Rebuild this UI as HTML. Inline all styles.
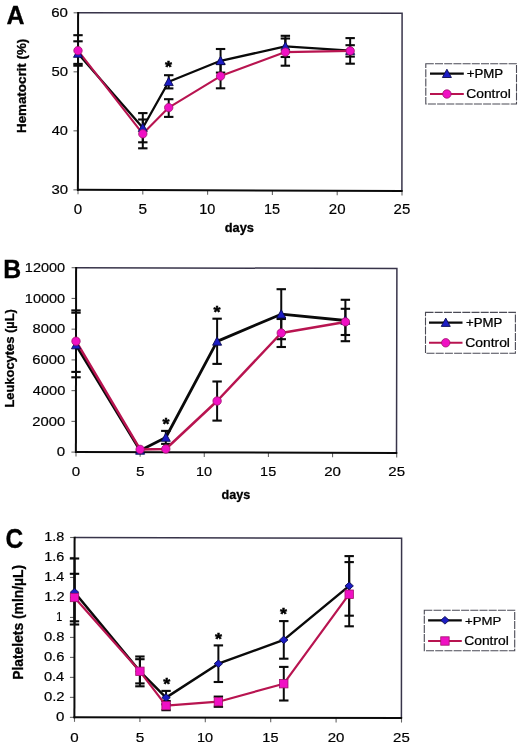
<!DOCTYPE html>
<html><head><meta charset="utf-8"><title>Figure</title>
<style>html,body{margin:0;padding:0;background:#fff;} svg{display:block;filter:blur(0.4px);} text{font-family:"Liberation Sans",sans-serif;}</style>
</head><body>
<svg width="520" height="747" viewBox="0 0 520 747">
<rect x="0" y="0" width="520" height="747" fill="#fff"/>
<path d="M78.10,12.80 L402.10,13.30 L401.90,191.00" fill="none" stroke="#38344a" stroke-width="1.5"/>
<line x1="73.60" y1="12.80" x2="78.10" y2="12.80" stroke="#666" stroke-width="1.1"/>
<line x1="73.53" y1="71.82" x2="78.03" y2="71.82" stroke="#666" stroke-width="1.1"/>
<line x1="73.47" y1="130.83" x2="77.97" y2="130.83" stroke="#666" stroke-width="1.1"/>
<line x1="73.40" y1="189.85" x2="77.90" y2="189.85" stroke="#666" stroke-width="1.1"/>
<line x1="78.00" y1="189.85" x2="78.00" y2="194.35" stroke="#666" stroke-width="1.1"/>
<line x1="142.80" y1="190.08" x2="142.80" y2="194.58" stroke="#666" stroke-width="1.1"/>
<line x1="207.60" y1="190.31" x2="207.60" y2="194.81" stroke="#666" stroke-width="1.1"/>
<line x1="272.40" y1="190.54" x2="272.40" y2="195.04" stroke="#666" stroke-width="1.1"/>
<line x1="337.20" y1="190.77" x2="337.20" y2="195.27" stroke="#666" stroke-width="1.1"/>
<line x1="402.00" y1="191.00" x2="402.00" y2="195.50" stroke="#666" stroke-width="1.1"/>
<line x1="78.10" y1="12.05" x2="77.90" y2="190.75" stroke="#0a0a0a" stroke-width="2"/>
<line x1="77.00" y1="189.85" x2="402.65" y2="191.00" stroke="#0a0a0a" stroke-width="2"/>
<line x1="78.00" y1="41.30" x2="78.00" y2="65.70" stroke="#0a0a0a" stroke-width="2"/>
<line x1="73.30" y1="41.30" x2="82.70" y2="41.30" stroke="#0a0a0a" stroke-width="2.1"/>
<line x1="73.30" y1="65.70" x2="82.70" y2="65.70" stroke="#0a0a0a" stroke-width="2.1"/>
<line x1="142.80" y1="113.10" x2="142.80" y2="142.30" stroke="#0a0a0a" stroke-width="2"/>
<line x1="138.10" y1="113.10" x2="147.50" y2="113.10" stroke="#0a0a0a" stroke-width="2.1"/>
<line x1="138.10" y1="142.30" x2="147.50" y2="142.30" stroke="#0a0a0a" stroke-width="2.1"/>
<line x1="168.72" y1="75.20" x2="168.72" y2="88.40" stroke="#0a0a0a" stroke-width="2"/>
<line x1="164.02" y1="75.20" x2="173.42" y2="75.20" stroke="#0a0a0a" stroke-width="2.1"/>
<line x1="164.02" y1="88.40" x2="173.42" y2="88.40" stroke="#0a0a0a" stroke-width="2.1"/>
<line x1="220.56" y1="49.00" x2="220.56" y2="72.60" stroke="#0a0a0a" stroke-width="2"/>
<line x1="215.86" y1="49.00" x2="225.26" y2="49.00" stroke="#0a0a0a" stroke-width="2.1"/>
<line x1="215.86" y1="72.60" x2="225.26" y2="72.60" stroke="#0a0a0a" stroke-width="2.1"/>
<line x1="285.36" y1="35.80" x2="285.36" y2="57.00" stroke="#0a0a0a" stroke-width="2"/>
<line x1="280.66" y1="35.80" x2="290.06" y2="35.80" stroke="#0a0a0a" stroke-width="2.1"/>
<line x1="280.66" y1="57.00" x2="290.06" y2="57.00" stroke="#0a0a0a" stroke-width="2.1"/>
<line x1="350.16" y1="38.10" x2="350.16" y2="63.70" stroke="#0a0a0a" stroke-width="2"/>
<line x1="345.46" y1="38.10" x2="354.86" y2="38.10" stroke="#0a0a0a" stroke-width="2.1"/>
<line x1="345.46" y1="63.70" x2="354.86" y2="63.70" stroke="#0a0a0a" stroke-width="2.1"/>
<line x1="78.00" y1="35.20" x2="78.00" y2="63.90" stroke="#0a0a0a" stroke-width="2"/>
<line x1="73.30" y1="35.20" x2="82.70" y2="35.20" stroke="#0a0a0a" stroke-width="2.1"/>
<line x1="73.30" y1="63.90" x2="82.70" y2="63.90" stroke="#0a0a0a" stroke-width="2.1"/>
<line x1="142.80" y1="119.50" x2="142.80" y2="148.30" stroke="#0a0a0a" stroke-width="2"/>
<line x1="138.10" y1="119.50" x2="147.50" y2="119.50" stroke="#0a0a0a" stroke-width="2.1"/>
<line x1="138.10" y1="148.30" x2="147.50" y2="148.30" stroke="#0a0a0a" stroke-width="2.1"/>
<line x1="168.72" y1="99.20" x2="168.72" y2="116.90" stroke="#0a0a0a" stroke-width="2"/>
<line x1="164.02" y1="99.20" x2="173.42" y2="99.20" stroke="#0a0a0a" stroke-width="2.1"/>
<line x1="164.02" y1="116.90" x2="173.42" y2="116.90" stroke="#0a0a0a" stroke-width="2.1"/>
<line x1="220.56" y1="64.00" x2="220.56" y2="88.30" stroke="#0a0a0a" stroke-width="2"/>
<line x1="215.86" y1="64.00" x2="225.26" y2="64.00" stroke="#0a0a0a" stroke-width="2.1"/>
<line x1="215.86" y1="88.30" x2="225.26" y2="88.30" stroke="#0a0a0a" stroke-width="2.1"/>
<line x1="285.36" y1="38.50" x2="285.36" y2="65.70" stroke="#0a0a0a" stroke-width="2"/>
<line x1="280.66" y1="38.50" x2="290.06" y2="38.50" stroke="#0a0a0a" stroke-width="2.1"/>
<line x1="280.66" y1="65.70" x2="290.06" y2="65.70" stroke="#0a0a0a" stroke-width="2.1"/>
<line x1="350.16" y1="45.20" x2="350.16" y2="56.60" stroke="#0a0a0a" stroke-width="2"/>
<line x1="345.46" y1="45.20" x2="354.86" y2="45.20" stroke="#0a0a0a" stroke-width="2.1"/>
<line x1="345.46" y1="56.60" x2="354.86" y2="56.60" stroke="#0a0a0a" stroke-width="2.1"/>
<polyline points="78.00,53.50 142.80,127.70 168.72,81.80 220.56,60.80 285.36,46.40 350.16,50.60" fill="none" stroke="#0a0a0a" stroke-width="2.3" stroke-linejoin="round"/>
<polyline points="78.00,50.60 142.80,133.80 168.72,107.60 220.56,76.10 285.36,52.10 350.16,50.90" fill="none" stroke="#b81450" stroke-width="2.1" stroke-linejoin="round"/>
<path d="M78.00,49.00 L82.50,57.30 L73.50,57.30 Z" fill="#1c1cc4" stroke="#0a0a50" stroke-width="0.9" stroke-linejoin="round"/>
<path d="M142.80,123.20 L147.30,131.50 L138.30,131.50 Z" fill="#1c1cc4" stroke="#0a0a50" stroke-width="0.9" stroke-linejoin="round"/>
<path d="M168.72,77.30 L173.22,85.60 L164.22,85.60 Z" fill="#1c1cc4" stroke="#0a0a50" stroke-width="0.9" stroke-linejoin="round"/>
<path d="M220.56,56.30 L225.06,64.60 L216.06,64.60 Z" fill="#1c1cc4" stroke="#0a0a50" stroke-width="0.9" stroke-linejoin="round"/>
<path d="M285.36,41.90 L289.86,50.20 L280.86,50.20 Z" fill="#1c1cc4" stroke="#0a0a50" stroke-width="0.9" stroke-linejoin="round"/>
<path d="M350.16,46.10 L354.66,54.40 L345.66,54.40 Z" fill="#1c1cc4" stroke="#0a0a50" stroke-width="0.9" stroke-linejoin="round"/>
<circle cx="78.00" cy="50.60" r="4.2" fill="#f010c4" stroke="#a0106a" stroke-width="0.8"/>
<circle cx="142.80" cy="133.80" r="4.2" fill="#f010c4" stroke="#a0106a" stroke-width="0.8"/>
<circle cx="168.72" cy="107.60" r="4.2" fill="#f010c4" stroke="#a0106a" stroke-width="0.8"/>
<circle cx="220.56" cy="76.10" r="4.2" fill="#f010c4" stroke="#a0106a" stroke-width="0.8"/>
<circle cx="285.36" cy="52.10" r="4.2" fill="#f010c4" stroke="#a0106a" stroke-width="0.8"/>
<circle cx="350.16" cy="50.90" r="4.2" fill="#f010c4" stroke="#a0106a" stroke-width="0.8"/>
<path d="M76.10,267.70 L396.90,268.45 L396.50,452.95" fill="none" stroke="#38344a" stroke-width="1.5"/>
<line x1="71.40" y1="452.10" x2="75.90" y2="452.10" stroke="#666" stroke-width="1.1"/>
<line x1="71.43" y1="421.37" x2="75.93" y2="421.37" stroke="#666" stroke-width="1.1"/>
<line x1="71.47" y1="390.63" x2="75.97" y2="390.63" stroke="#666" stroke-width="1.1"/>
<line x1="71.50" y1="359.90" x2="76.00" y2="359.90" stroke="#666" stroke-width="1.1"/>
<line x1="71.53" y1="329.17" x2="76.03" y2="329.17" stroke="#666" stroke-width="1.1"/>
<line x1="71.57" y1="298.44" x2="76.07" y2="298.44" stroke="#666" stroke-width="1.1"/>
<line x1="71.60" y1="267.70" x2="76.10" y2="267.70" stroke="#666" stroke-width="1.1"/>
<line x1="76.00" y1="452.10" x2="76.00" y2="456.60" stroke="#666" stroke-width="1.1"/>
<line x1="140.14" y1="452.27" x2="140.14" y2="456.77" stroke="#666" stroke-width="1.1"/>
<line x1="204.28" y1="452.44" x2="204.28" y2="456.94" stroke="#666" stroke-width="1.1"/>
<line x1="268.42" y1="452.61" x2="268.42" y2="457.11" stroke="#666" stroke-width="1.1"/>
<line x1="332.56" y1="452.78" x2="332.56" y2="457.28" stroke="#666" stroke-width="1.1"/>
<line x1="396.70" y1="452.95" x2="396.70" y2="457.45" stroke="#666" stroke-width="1.1"/>
<line x1="76.10" y1="266.95" x2="75.90" y2="453.00" stroke="#0a0a0a" stroke-width="2"/>
<line x1="75.00" y1="452.10" x2="397.25" y2="452.95" stroke="#0a0a0a" stroke-width="2"/>
<line x1="76.00" y1="312.70" x2="76.00" y2="377.30" stroke="#0a0a0a" stroke-width="2"/>
<line x1="71.30" y1="312.70" x2="80.70" y2="312.70" stroke="#0a0a0a" stroke-width="2.1"/>
<line x1="71.30" y1="377.30" x2="80.70" y2="377.30" stroke="#0a0a0a" stroke-width="2.1"/>
<line x1="165.80" y1="430.90" x2="165.80" y2="443.90" stroke="#0a0a0a" stroke-width="2"/>
<line x1="161.10" y1="430.90" x2="170.50" y2="430.90" stroke="#0a0a0a" stroke-width="2.1"/>
<line x1="161.10" y1="443.90" x2="170.50" y2="443.90" stroke="#0a0a0a" stroke-width="2.1"/>
<line x1="217.11" y1="318.70" x2="217.11" y2="363.90" stroke="#0a0a0a" stroke-width="2"/>
<line x1="212.41" y1="318.70" x2="221.81" y2="318.70" stroke="#0a0a0a" stroke-width="2.1"/>
<line x1="212.41" y1="363.90" x2="221.81" y2="363.90" stroke="#0a0a0a" stroke-width="2.1"/>
<line x1="281.25" y1="289.20" x2="281.25" y2="339.20" stroke="#0a0a0a" stroke-width="2"/>
<line x1="276.55" y1="289.20" x2="285.95" y2="289.20" stroke="#0a0a0a" stroke-width="2.1"/>
<line x1="276.55" y1="339.20" x2="285.95" y2="339.20" stroke="#0a0a0a" stroke-width="2.1"/>
<line x1="345.39" y1="299.80" x2="345.39" y2="341.20" stroke="#0a0a0a" stroke-width="2"/>
<line x1="340.69" y1="299.80" x2="350.09" y2="299.80" stroke="#0a0a0a" stroke-width="2.1"/>
<line x1="340.69" y1="341.20" x2="350.09" y2="341.20" stroke="#0a0a0a" stroke-width="2.1"/>
<line x1="76.00" y1="310.40" x2="76.00" y2="371.90" stroke="#0a0a0a" stroke-width="2"/>
<line x1="71.30" y1="310.40" x2="80.70" y2="310.40" stroke="#0a0a0a" stroke-width="2.1"/>
<line x1="71.30" y1="371.90" x2="80.70" y2="371.90" stroke="#0a0a0a" stroke-width="2.1"/>
<line x1="217.11" y1="381.50" x2="217.11" y2="420.60" stroke="#0a0a0a" stroke-width="2"/>
<line x1="212.41" y1="381.50" x2="221.81" y2="381.50" stroke="#0a0a0a" stroke-width="2.1"/>
<line x1="212.41" y1="420.60" x2="221.81" y2="420.60" stroke="#0a0a0a" stroke-width="2.1"/>
<line x1="281.25" y1="319.00" x2="281.25" y2="347.00" stroke="#0a0a0a" stroke-width="2"/>
<line x1="276.55" y1="319.00" x2="285.95" y2="319.00" stroke="#0a0a0a" stroke-width="2.1"/>
<line x1="276.55" y1="347.00" x2="285.95" y2="347.00" stroke="#0a0a0a" stroke-width="2.1"/>
<line x1="345.39" y1="308.80" x2="345.39" y2="335.00" stroke="#0a0a0a" stroke-width="2"/>
<line x1="340.69" y1="308.80" x2="350.09" y2="308.80" stroke="#0a0a0a" stroke-width="2.1"/>
<line x1="340.69" y1="335.00" x2="350.09" y2="335.00" stroke="#0a0a0a" stroke-width="2.1"/>
<polyline points="76.00,345.00 140.14,450.40 165.80,437.50 217.11,341.40 281.25,314.20 345.39,320.50" fill="none" stroke="#0a0a0a" stroke-width="2.8" stroke-linejoin="round"/>
<polyline points="76.00,341.20 140.14,449.40 165.80,449.00 217.11,401.00 281.25,333.00 345.39,321.90" fill="none" stroke="#b81450" stroke-width="2.5" stroke-linejoin="round"/>
<path d="M76.00,340.50 L80.50,348.80 L71.50,348.80 Z" fill="#1c1cc4" stroke="#0a0a50" stroke-width="0.9" stroke-linejoin="round"/>
<path d="M140.14,445.90 L144.64,454.20 L135.64,454.20 Z" fill="#1c1cc4" stroke="#0a0a50" stroke-width="0.9" stroke-linejoin="round"/>
<path d="M165.80,433.00 L170.30,441.30 L161.30,441.30 Z" fill="#1c1cc4" stroke="#0a0a50" stroke-width="0.9" stroke-linejoin="round"/>
<path d="M217.11,336.90 L221.61,345.20 L212.61,345.20 Z" fill="#1c1cc4" stroke="#0a0a50" stroke-width="0.9" stroke-linejoin="round"/>
<path d="M281.25,309.70 L285.75,318.00 L276.75,318.00 Z" fill="#1c1cc4" stroke="#0a0a50" stroke-width="0.9" stroke-linejoin="round"/>
<path d="M345.39,316.00 L349.89,324.30 L340.89,324.30 Z" fill="#1c1cc4" stroke="#0a0a50" stroke-width="0.9" stroke-linejoin="round"/>
<circle cx="76.00" cy="341.20" r="4.2" fill="#f010c4" stroke="#a0106a" stroke-width="0.8"/>
<circle cx="140.14" cy="449.40" r="4.2" fill="#f010c4" stroke="#a0106a" stroke-width="0.8"/>
<circle cx="165.80" cy="449.00" r="4.2" fill="#f010c4" stroke="#a0106a" stroke-width="0.8"/>
<circle cx="217.11" cy="401.00" r="4.2" fill="#f010c4" stroke="#a0106a" stroke-width="0.8"/>
<circle cx="281.25" cy="333.00" r="4.2" fill="#f010c4" stroke="#a0106a" stroke-width="0.8"/>
<circle cx="345.39" cy="321.90" r="4.2" fill="#f010c4" stroke="#a0106a" stroke-width="0.8"/>
<path d="M74.60,537.50 L401.60,538.20 L401.40,718.05" fill="none" stroke="#38344a" stroke-width="1.5"/>
<line x1="69.90" y1="717.35" x2="74.40" y2="717.35" stroke="#666" stroke-width="1.1"/>
<line x1="69.92" y1="697.37" x2="74.42" y2="697.37" stroke="#666" stroke-width="1.1"/>
<line x1="69.94" y1="677.38" x2="74.44" y2="677.38" stroke="#666" stroke-width="1.1"/>
<line x1="69.97" y1="657.40" x2="74.47" y2="657.40" stroke="#666" stroke-width="1.1"/>
<line x1="69.99" y1="637.42" x2="74.49" y2="637.42" stroke="#666" stroke-width="1.1"/>
<line x1="70.01" y1="617.44" x2="74.51" y2="617.44" stroke="#666" stroke-width="1.1"/>
<line x1="70.03" y1="597.45" x2="74.53" y2="597.45" stroke="#666" stroke-width="1.1"/>
<line x1="70.06" y1="577.47" x2="74.56" y2="577.47" stroke="#666" stroke-width="1.1"/>
<line x1="70.08" y1="557.49" x2="74.58" y2="557.49" stroke="#666" stroke-width="1.1"/>
<line x1="70.10" y1="537.50" x2="74.60" y2="537.50" stroke="#666" stroke-width="1.1"/>
<line x1="74.50" y1="717.35" x2="74.50" y2="721.85" stroke="#666" stroke-width="1.1"/>
<line x1="139.90" y1="717.49" x2="139.90" y2="721.99" stroke="#666" stroke-width="1.1"/>
<line x1="205.30" y1="717.63" x2="205.30" y2="722.13" stroke="#666" stroke-width="1.1"/>
<line x1="270.70" y1="717.77" x2="270.70" y2="722.27" stroke="#666" stroke-width="1.1"/>
<line x1="336.10" y1="717.91" x2="336.10" y2="722.41" stroke="#666" stroke-width="1.1"/>
<line x1="401.50" y1="718.05" x2="401.50" y2="722.55" stroke="#666" stroke-width="1.1"/>
<line x1="74.60" y1="536.75" x2="74.40" y2="718.25" stroke="#0a0a0a" stroke-width="2"/>
<line x1="73.50" y1="717.35" x2="402.15" y2="718.05" stroke="#0a0a0a" stroke-width="2"/>
<line x1="74.50" y1="558.50" x2="74.50" y2="624.50" stroke="#0a0a0a" stroke-width="2"/>
<line x1="69.80" y1="558.50" x2="79.20" y2="558.50" stroke="#0a0a0a" stroke-width="2.1"/>
<line x1="69.80" y1="624.50" x2="79.20" y2="624.50" stroke="#0a0a0a" stroke-width="2.1"/>
<line x1="139.90" y1="656.50" x2="139.90" y2="686.30" stroke="#0a0a0a" stroke-width="2"/>
<line x1="135.20" y1="656.50" x2="144.60" y2="656.50" stroke="#0a0a0a" stroke-width="2.1"/>
<line x1="135.20" y1="686.30" x2="144.60" y2="686.30" stroke="#0a0a0a" stroke-width="2.1"/>
<line x1="166.06" y1="690.90" x2="166.06" y2="704.30" stroke="#0a0a0a" stroke-width="2"/>
<line x1="161.36" y1="690.90" x2="170.76" y2="690.90" stroke="#0a0a0a" stroke-width="2.1"/>
<line x1="161.36" y1="704.30" x2="170.76" y2="704.30" stroke="#0a0a0a" stroke-width="2.1"/>
<line x1="218.38" y1="645.40" x2="218.38" y2="682.00" stroke="#0a0a0a" stroke-width="2"/>
<line x1="213.68" y1="645.40" x2="223.08" y2="645.40" stroke="#0a0a0a" stroke-width="2.1"/>
<line x1="213.68" y1="682.00" x2="223.08" y2="682.00" stroke="#0a0a0a" stroke-width="2.1"/>
<line x1="283.78" y1="621.10" x2="283.78" y2="658.70" stroke="#0a0a0a" stroke-width="2"/>
<line x1="279.08" y1="621.10" x2="288.48" y2="621.10" stroke="#0a0a0a" stroke-width="2.1"/>
<line x1="279.08" y1="658.70" x2="288.48" y2="658.70" stroke="#0a0a0a" stroke-width="2.1"/>
<line x1="349.18" y1="556.10" x2="349.18" y2="615.70" stroke="#0a0a0a" stroke-width="2"/>
<line x1="344.48" y1="556.10" x2="353.88" y2="556.10" stroke="#0a0a0a" stroke-width="2.1"/>
<line x1="344.48" y1="615.70" x2="353.88" y2="615.70" stroke="#0a0a0a" stroke-width="2.1"/>
<line x1="74.50" y1="573.80" x2="74.50" y2="621.30" stroke="#0a0a0a" stroke-width="2"/>
<line x1="69.80" y1="573.80" x2="79.20" y2="573.80" stroke="#0a0a0a" stroke-width="2.1"/>
<line x1="69.80" y1="621.30" x2="79.20" y2="621.30" stroke="#0a0a0a" stroke-width="2.1"/>
<line x1="139.90" y1="659.20" x2="139.90" y2="683.40" stroke="#0a0a0a" stroke-width="2"/>
<line x1="135.20" y1="659.20" x2="144.60" y2="659.20" stroke="#0a0a0a" stroke-width="2.1"/>
<line x1="135.20" y1="683.40" x2="144.60" y2="683.40" stroke="#0a0a0a" stroke-width="2.1"/>
<line x1="166.06" y1="701.00" x2="166.06" y2="710.20" stroke="#0a0a0a" stroke-width="2"/>
<line x1="161.36" y1="701.00" x2="170.76" y2="701.00" stroke="#0a0a0a" stroke-width="2.1"/>
<line x1="161.36" y1="710.20" x2="170.76" y2="710.20" stroke="#0a0a0a" stroke-width="2.1"/>
<line x1="218.38" y1="696.60" x2="218.38" y2="706.80" stroke="#0a0a0a" stroke-width="2"/>
<line x1="213.68" y1="696.60" x2="223.08" y2="696.60" stroke="#0a0a0a" stroke-width="2.1"/>
<line x1="213.68" y1="706.80" x2="223.08" y2="706.80" stroke="#0a0a0a" stroke-width="2.1"/>
<line x1="283.78" y1="666.90" x2="283.78" y2="700.50" stroke="#0a0a0a" stroke-width="2"/>
<line x1="279.08" y1="666.90" x2="288.48" y2="666.90" stroke="#0a0a0a" stroke-width="2.1"/>
<line x1="279.08" y1="700.50" x2="288.48" y2="700.50" stroke="#0a0a0a" stroke-width="2.1"/>
<line x1="349.18" y1="562.10" x2="349.18" y2="626.30" stroke="#0a0a0a" stroke-width="2"/>
<line x1="344.48" y1="562.10" x2="353.88" y2="562.10" stroke="#0a0a0a" stroke-width="2.1"/>
<line x1="344.48" y1="626.30" x2="353.88" y2="626.30" stroke="#0a0a0a" stroke-width="2.1"/>
<polyline points="74.50,592.20 139.90,671.40 166.06,697.60 218.38,663.70 283.78,639.90 349.18,585.90" fill="none" stroke="#0a0a0a" stroke-width="2.5" stroke-linejoin="round"/>
<polyline points="74.50,597.50 139.90,671.30 166.06,705.60 218.38,701.70 283.78,683.70 349.18,594.20" fill="none" stroke="#b81450" stroke-width="2.2" stroke-linejoin="round"/>
<path d="M74.50,588.40 L78.70,592.20 L74.50,596.00 L70.30,592.20 Z" fill="#1c1cc4" stroke="#0a0a50" stroke-width="0.9" stroke-linejoin="round"/>
<path d="M139.90,667.60 L144.10,671.40 L139.90,675.20 L135.70,671.40 Z" fill="#1c1cc4" stroke="#0a0a50" stroke-width="0.9" stroke-linejoin="round"/>
<path d="M166.06,693.80 L170.26,697.60 L166.06,701.40 L161.86,697.60 Z" fill="#1c1cc4" stroke="#0a0a50" stroke-width="0.9" stroke-linejoin="round"/>
<path d="M218.38,659.90 L222.58,663.70 L218.38,667.50 L214.18,663.70 Z" fill="#1c1cc4" stroke="#0a0a50" stroke-width="0.9" stroke-linejoin="round"/>
<path d="M283.78,636.10 L287.98,639.90 L283.78,643.70 L279.58,639.90 Z" fill="#1c1cc4" stroke="#0a0a50" stroke-width="0.9" stroke-linejoin="round"/>
<path d="M349.18,582.10 L353.38,585.90 L349.18,589.70 L344.98,585.90 Z" fill="#1c1cc4" stroke="#0a0a50" stroke-width="0.9" stroke-linejoin="round"/>
<rect x="70.30" y="593.30" width="8.4" height="8.4" fill="#f010c4" stroke="#a0106a" stroke-width="0.8"/>
<rect x="135.70" y="667.10" width="8.4" height="8.4" fill="#f010c4" stroke="#a0106a" stroke-width="0.8"/>
<rect x="161.86" y="701.40" width="8.4" height="8.4" fill="#f010c4" stroke="#a0106a" stroke-width="0.8"/>
<rect x="214.18" y="697.50" width="8.4" height="8.4" fill="#f010c4" stroke="#a0106a" stroke-width="0.8"/>
<rect x="279.58" y="679.50" width="8.4" height="8.4" fill="#f010c4" stroke="#a0106a" stroke-width="0.8"/>
<rect x="344.98" y="590.00" width="8.4" height="8.4" fill="#f010c4" stroke="#a0106a" stroke-width="0.8"/>
<rect x="425.80" y="63.70" width="90.70" height="40.30" fill="none" stroke="#4a4a55" stroke-width="1.1" stroke-dasharray="8,1.2"/>
<line x1="430.00" y1="73.70" x2="463.80" y2="73.70" stroke="#0a0a0a" stroke-width="2.2"/>
<path d="M446.90,69.20 L451.40,77.50 L442.40,77.50 Z" fill="#1c1cc4" stroke="#0a0a50" stroke-width="0.9" stroke-linejoin="round"/>
<line x1="430.00" y1="94.00" x2="463.80" y2="94.00" stroke="#b81450" stroke-width="2.0"/>
<circle cx="446.90" cy="94.00" r="4.2" fill="#f010c4" stroke="#a0106a" stroke-width="0.8"/>
<rect x="425.50" y="312.40" width="89.90" height="40.80" fill="none" stroke="#4a4a55" stroke-width="1.1" stroke-dasharray="8,1.2"/>
<line x1="429.00" y1="322.60" x2="462.50" y2="322.60" stroke="#0a0a0a" stroke-width="2.2"/>
<path d="M445.75,318.10 L450.25,326.40 L441.25,326.40 Z" fill="#1c1cc4" stroke="#0a0a50" stroke-width="0.9" stroke-linejoin="round"/>
<line x1="429.00" y1="342.80" x2="462.50" y2="342.80" stroke="#b81450" stroke-width="2.0"/>
<circle cx="445.75" cy="342.80" r="4.2" fill="#f010c4" stroke="#a0106a" stroke-width="0.8"/>
<rect x="424.30" y="610.30" width="90.40" height="40.50" fill="none" stroke="#4a4a55" stroke-width="1.1" stroke-dasharray="8,1.2"/>
<line x1="428.10" y1="620.30" x2="461.80" y2="620.30" stroke="#0a0a0a" stroke-width="2.2"/>
<path d="M444.95,616.50 L449.15,620.30 L444.95,624.10 L440.75,620.30 Z" fill="#1c1cc4" stroke="#0a0a50" stroke-width="0.9" stroke-linejoin="round"/>
<line x1="428.10" y1="641.00" x2="461.80" y2="641.00" stroke="#b81450" stroke-width="2.0"/>
<rect x="440.75" y="636.80" width="8.4" height="8.4" fill="#f010c4" stroke="#a0106a" stroke-width="0.8"/>
<text transform="matrix(0.24939,0.00000,0.00000,0.26265,6.47182,23.64265)" font-size="100" font-weight="bold" fill="#000" stroke="#000" stroke-width="1.172">A</text>
<text transform="matrix(0.24852,0.00000,0.00000,0.26464,3.28033,277.58000)" font-size="100" font-weight="bold" fill="#000" stroke="#000" stroke-width="1.170">B</text>
<text transform="matrix(0.24554,0.00000,0.00000,0.26986,5.43785,548.21014)" font-size="100" font-weight="bold" fill="#000" stroke="#000" stroke-width="1.165">C</text>
<text transform="matrix(0.00000,-0.13380,0.12936,0.00000,25.96340,133.01663)" font-size="100" font-weight="bold" fill="#000" stroke="#000" stroke-width="2.280">Hematocrit (%)</text>
<text transform="matrix(0.00000,-0.12911,0.12617,0.00000,14.13043,407.58375)" font-size="100" font-weight="bold" fill="#000" stroke="#000" stroke-width="2.351">Leukocytes (µL)</text>
<text transform="matrix(0.00000,-0.13846,0.13894,0.00000,23.06234,679.74922)" font-size="100" font-weight="bold" fill="#000" stroke="#000" stroke-width="2.163">Platelets (mln/µL)</text>
<text transform="matrix(0.12800,0.00000,0.00000,0.12830,224.80800,231.58574)" font-size="100" font-weight="bold" fill="#000" stroke="#000" stroke-width="2.341">days</text>
<text transform="matrix(0.12618,0.00000,0.00000,0.13681,221.61527,499.30702)" font-size="100" font-weight="bold" fill="#000" stroke="#000" stroke-width="2.283">days</text>
<text transform="matrix(0.15039,0.00000,0.00000,0.12873,51.22804,17.04127)" font-size="100" font-weight="normal" fill="#000" stroke="#000" stroke-width="1.437">60</text>
<text transform="matrix(0.14893,0.00000,0.00000,0.12873,51.38427,76.06127)" font-size="100" font-weight="normal" fill="#000" stroke="#000" stroke-width="1.444">50</text>
<text transform="matrix(0.14610,0.00000,0.00000,0.12873,51.68781,135.07127)" font-size="100" font-weight="normal" fill="#000" stroke="#000" stroke-width="1.458">40</text>
<text transform="matrix(0.14893,0.00000,0.00000,0.12873,51.38427,194.09127)" font-size="100" font-weight="normal" fill="#000" stroke="#000" stroke-width="1.444">30</text>
<text transform="matrix(0.15083,0.00000,0.00000,0.13718,73.77667,213.98282)" font-size="100" font-weight="normal" fill="#000" stroke="#000" stroke-width="1.390">0</text>
<text transform="matrix(0.15404,0.00000,0.00000,0.13914,138.56383,213.98086)" font-size="100" font-weight="normal" fill="#000" stroke="#000" stroke-width="1.366">5</text>
<text transform="matrix(0.14485,0.00000,0.00000,0.13718,199.27121,213.98282)" font-size="100" font-weight="normal" fill="#000" stroke="#000" stroke-width="1.419">10</text>
<text transform="matrix(0.14485,0.00000,0.00000,0.13914,264.07121,213.98086)" font-size="100" font-weight="normal" fill="#000" stroke="#000" stroke-width="1.409">15</text>
<text transform="matrix(0.15039,0.00000,0.00000,0.13718,328.77804,213.98282)" font-size="100" font-weight="normal" fill="#000" stroke="#000" stroke-width="1.392">20</text>
<text transform="matrix(0.15039,0.00000,0.00000,0.13718,393.57804,213.98282)" font-size="100" font-weight="normal" fill="#000" stroke="#000" stroke-width="1.392">25</text>
<text transform="matrix(0.15083,0.00000,0.00000,0.12732,56.77667,456.29268)" font-size="100" font-weight="normal" fill="#000" stroke="#000" stroke-width="1.443">0</text>
<text transform="matrix(0.14808,0.00000,0.00000,0.12732,32.33962,425.55968)" font-size="100" font-weight="normal" fill="#000" stroke="#000" stroke-width="1.457">2000</text>
<text transform="matrix(0.14602,0.00000,0.00000,0.12732,32.78796,394.82668)" font-size="100" font-weight="normal" fill="#000" stroke="#000" stroke-width="1.467">4000</text>
<text transform="matrix(0.14808,0.00000,0.00000,0.12732,32.33962,364.09368)" font-size="100" font-weight="normal" fill="#000" stroke="#000" stroke-width="1.457">6000</text>
<text transform="matrix(0.14738,0.00000,0.00000,0.12732,32.49047,333.36068)" font-size="100" font-weight="normal" fill="#000" stroke="#000" stroke-width="1.460">8000</text>
<text transform="matrix(0.14526,0.00000,0.00000,0.12732,24.81789,302.62768)" font-size="100" font-weight="normal" fill="#000" stroke="#000" stroke-width="1.471">10000</text>
<text transform="matrix(0.14526,0.00000,0.00000,0.12732,24.81789,271.89468)" font-size="100" font-weight="normal" fill="#000" stroke="#000" stroke-width="1.471">12000</text>
<text transform="matrix(0.15083,0.00000,0.00000,0.13014,71.77667,476.08986)" font-size="100" font-weight="normal" fill="#000" stroke="#000" stroke-width="1.427">0</text>
<text transform="matrix(0.15404,0.00000,0.00000,0.13200,135.90383,476.08800)" font-size="100" font-weight="normal" fill="#000" stroke="#000" stroke-width="1.403">5</text>
<text transform="matrix(0.14485,0.00000,0.00000,0.13014,195.95121,476.08986)" font-size="100" font-weight="normal" fill="#000" stroke="#000" stroke-width="1.457">10</text>
<text transform="matrix(0.14485,0.00000,0.00000,0.13200,260.09121,476.08800)" font-size="100" font-weight="normal" fill="#000" stroke="#000" stroke-width="1.446">15</text>
<text transform="matrix(0.15039,0.00000,0.00000,0.13014,324.13804,476.08986)" font-size="100" font-weight="normal" fill="#000" stroke="#000" stroke-width="1.430">20</text>
<text transform="matrix(0.15039,0.00000,0.00000,0.13014,388.27804,476.08986)" font-size="100" font-weight="normal" fill="#000" stroke="#000" stroke-width="1.430">25</text>
<text transform="matrix(0.15083,0.00000,0.00000,0.12592,55.97667,720.79408)" font-size="100" font-weight="normal" fill="#000" stroke="#000" stroke-width="1.451">0</text>
<text transform="matrix(0.14877,0.00000,0.00000,0.12592,43.88492,700.81108)" font-size="100" font-weight="normal" fill="#000" stroke="#000" stroke-width="1.461">0.2</text>
<text transform="matrix(0.14652,0.00000,0.00000,0.12592,43.89394,680.82808)" font-size="100" font-weight="normal" fill="#000" stroke="#000" stroke-width="1.472">0.4</text>
<text transform="matrix(0.14763,0.00000,0.00000,0.12592,43.88947,660.84508)" font-size="100" font-weight="normal" fill="#000" stroke="#000" stroke-width="1.467">0.6</text>
<text transform="matrix(0.14763,0.00000,0.00000,0.12592,43.88947,640.86208)" font-size="100" font-weight="normal" fill="#000" stroke="#000" stroke-width="1.467">0.8</text>
<text transform="matrix(0.10791,0.00000,0.00000,0.12957,56.21674,621.00500)" font-size="100" font-weight="normal" fill="#000" stroke="#000" stroke-width="1.691">1</text>
<text transform="matrix(0.14556,0.00000,0.00000,0.12771,44.31556,601.02200)" font-size="100" font-weight="normal" fill="#000" stroke="#000" stroke-width="1.467">1.2</text>
<text transform="matrix(0.14328,0.00000,0.00000,0.12957,44.33375,581.03900)" font-size="100" font-weight="normal" fill="#000" stroke="#000" stroke-width="1.468">1.4</text>
<text transform="matrix(0.14441,0.00000,0.00000,0.12592,44.32472,560.93008)" font-size="100" font-weight="normal" fill="#000" stroke="#000" stroke-width="1.483">1.6</text>
<text transform="matrix(0.14441,0.00000,0.00000,0.12592,44.32472,540.94708)" font-size="100" font-weight="normal" fill="#000" stroke="#000" stroke-width="1.483">1.8</text>
<text transform="matrix(0.15083,0.00000,0.00000,0.12873,70.27667,741.89127)" font-size="100" font-weight="normal" fill="#000" stroke="#000" stroke-width="1.435">0</text>
<text transform="matrix(0.15404,0.00000,0.00000,0.13057,135.66383,741.88943)" font-size="100" font-weight="normal" fill="#000" stroke="#000" stroke-width="1.410">5</text>
<text transform="matrix(0.14485,0.00000,0.00000,0.12873,196.97121,741.89127)" font-size="100" font-weight="normal" fill="#000" stroke="#000" stroke-width="1.465">10</text>
<text transform="matrix(0.14485,0.00000,0.00000,0.13057,262.37121,741.88943)" font-size="100" font-weight="normal" fill="#000" stroke="#000" stroke-width="1.454">15</text>
<text transform="matrix(0.15039,0.00000,0.00000,0.12873,327.67804,741.89127)" font-size="100" font-weight="normal" fill="#000" stroke="#000" stroke-width="1.437">20</text>
<text transform="matrix(0.15039,0.00000,0.00000,0.12873,393.07804,741.89127)" font-size="100" font-weight="normal" fill="#000" stroke="#000" stroke-width="1.437">25</text>
<text transform="matrix(0.13283,0.00000,0.00000,0.11884,466.63585,78.00000)" font-size="100" font-weight="normal" fill="#000" stroke="#000" stroke-width="1.990">+PMP</text>
<text transform="matrix(0.13794,0.00000,0.00000,0.12432,466.31029,98.17568)" font-size="100" font-weight="normal" fill="#000" stroke="#000" stroke-width="1.909">Control</text>
<text transform="matrix(0.13208,0.00000,0.00000,0.11884,466.03962,327.20000)" font-size="100" font-weight="normal" fill="#000" stroke="#000" stroke-width="1.995">+PMP</text>
<text transform="matrix(0.13891,0.00000,0.00000,0.12162,465.20547,347.17838)" font-size="100" font-weight="normal" fill="#000" stroke="#000" stroke-width="1.923">Control</text>
<text transform="matrix(0.13208,0.00000,0.00000,0.11739,464.93962,624.50000)" font-size="100" font-weight="normal" fill="#000" stroke="#000" stroke-width="2.008">+PMP</text>
<text transform="matrix(0.13859,0.00000,0.00000,0.12568,464.20707,644.67432)" font-size="100" font-weight="normal" fill="#000" stroke="#000" stroke-width="1.894">Control</text>
<text transform="matrix(0.17949,0.00000,0.00000,0.17297,165.00000,73.43514)" font-size="100" font-weight="bold" fill="#000" stroke="#000" stroke-width="2.838">*</text>
<text transform="matrix(0.17949,0.00000,0.00000,0.17297,162.50000,430.03514)" font-size="100" font-weight="bold" fill="#000" stroke="#000" stroke-width="2.838">*</text>
<text transform="matrix(0.17949,0.00000,0.00000,0.17297,213.50000,317.83514)" font-size="100" font-weight="bold" fill="#000" stroke="#000" stroke-width="2.838">*</text>
<text transform="matrix(0.17949,0.00000,0.00000,0.17297,163.30000,689.53514)" font-size="100" font-weight="bold" fill="#000" stroke="#000" stroke-width="2.838">*</text>
<text transform="matrix(0.17949,0.00000,0.00000,0.17297,214.90000,644.83514)" font-size="100" font-weight="bold" fill="#000" stroke="#000" stroke-width="2.838">*</text>
<text transform="matrix(0.17949,0.00000,0.00000,0.17297,280.10000,620.23514)" font-size="100" font-weight="bold" fill="#000" stroke="#000" stroke-width="2.838">*</text>
</svg>
</body></html>
